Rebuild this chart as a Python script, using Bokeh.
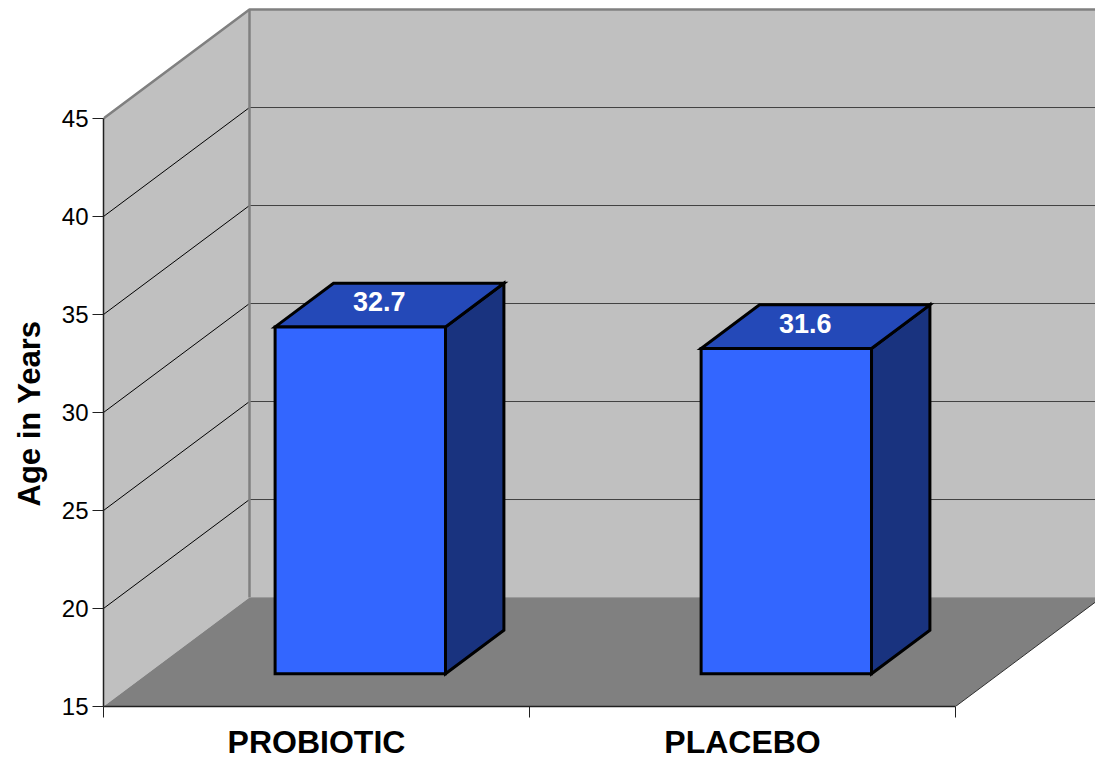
from bokeh.core.properties import value
from bokeh.embed import file_html
from bokeh.models import FixedTicker, Range1d, Title
from bokeh.plotting import figure
from bokeh.resources import INLINE

categories = ["PROBIOTIC", "PLACEBO"]
ages = [32.7, 31.6]
age_ticks = [15, 20, 25, 30, 35, 40, 45]
category_edges = [0, 1, 2]

Y_MIN, Y_MAX = age_ticks[0], age_ticks[-1]
X_MAX = len(categories)

# Oblique projection: a full step of depth shifts a point right and up.
DEPTH_X = 0.3427
DEPTH_Y = 5.56
BAR_WIDTH = 0.40
BAR_FRONT, BAR_BACK = 0.30, 0.70

WALL = "#C0C0C0"
EDGE = "#808080"
FLOOR = "#808080"
BAR_FRONT_COLOR = "#3366FF"
BAR_TOP_COLOR = "#2449B8"
BAR_SIDE_COLOR = "#19337F"
FONT = "Liberation Sans"


def project(x, y, depth=0.0):
    return x + depth * DEPTH_X, y + depth * DEPTH_Y


def polygon(*corners):
    points = [project(*c) for c in corners]
    return [pt[0] for pt in points], [pt[1] for pt in points]


p = figure(
    width=1095,
    height=762,
    output_backend="svg",
    toolbar_location=None,
    x_range=Range1d(0, 2.3286),
    y_range=Range1d(15, 51.02),
    min_border_left=103,
    min_border_right=0,
    min_border_top=0,
    min_border_bottom=56,
    outline_line_color=None,
    background_fill_color="white",
    border_fill_color="white",
)
p.grid.visible = False

# Walls and floor
far_right = 3.0
wall_xs, wall_ys = polygon((0, Y_MIN), (0, Y_MAX), (0, Y_MAX, 1), (0, Y_MIN, 1))
p.patch(wall_xs, wall_ys, fill_color=WALL, line_color=None)
back_xs, back_ys = polygon((0, Y_MIN, 1), (0, Y_MAX, 1), (far_right, Y_MAX, 1), (far_right, Y_MIN, 1))
p.patch(back_xs, back_ys, fill_color=WALL, line_color=None)

# Gridlines on the side wall and the back wall
inner_ticks = age_ticks[1:-1]
side_lines = [polygon((0, t), (0, t, 1)) for t in inner_ticks]
p.multi_line([s[0] for s in side_lines], [s[1] for s in side_lines], line_color="black", line_width=1)
back_lines = [polygon((0, t, 1), (far_right, t, 1)) for t in inner_ticks]
p.multi_line([s[0] for s in back_lines], [s[1] for s in back_lines], line_color="#404040", line_width=1)

floor_xs, floor_ys = polygon((0, Y_MIN), (X_MAX, Y_MIN), (X_MAX, Y_MIN, 1), (0, Y_MIN, 1))
p.patch(floor_xs, floor_ys, fill_color=FLOOR, line_color=None)

# Outline of the box
frame_lines = [
    polygon((0, Y_MAX), (0, Y_MAX, 1), (far_right, Y_MAX, 1)),
    polygon((0, Y_MIN, 1), (0, Y_MAX, 1)),
]
p.multi_line([s[0] for s in frame_lines], [s[1] for s in frame_lines], line_color=EDGE, line_width=2.5)
floor_edge_x, floor_edge_y = polygon((X_MAX, Y_MIN), (X_MAX, Y_MIN, 1))
p.line(floor_edge_x, floor_edge_y, line_color="#303030", line_width=1)
floor_back_x, floor_back_y = polygon((0, Y_MIN, 1), (X_MAX, Y_MIN, 1))
p.line(floor_back_x, floor_back_y, line_color="#9A9A9A", line_width=1)

# Bars: front, top and side faces
for i, age in enumerate(ages):
    left = i + 0.5 - BAR_WIDTH / 2
    right = left + BAR_WIDTH
    front = polygon((left, Y_MIN, BAR_FRONT), (right, Y_MIN, BAR_FRONT), (right, age, BAR_FRONT), (left, age, BAR_FRONT))
    top = polygon((left, age, BAR_FRONT), (right, age, BAR_FRONT), (right, age, BAR_BACK), (left, age, BAR_BACK))
    side = polygon((right, Y_MIN, BAR_FRONT), (right, Y_MIN, BAR_BACK), (right, age, BAR_BACK), (right, age, BAR_FRONT))
    for (xs, ys), color in ((side, BAR_SIDE_COLOR), (top, BAR_TOP_COLOR), (front, BAR_FRONT_COLOR)):
        p.patch(xs, ys, fill_color=color, line_color="black", line_width=3, line_join="miter")

# Value labels lying on the top faces
label_points = [project(i + 0.5, age, 0.43) for i, age in enumerate(ages)]
p.text(
    x=[pt[0] for pt in label_points],
    y=[pt[1] for pt in label_points],
    text=[f"{age:.1f}" for age in ages],
    text_color="white",
    text_font=value(FONT),
    text_font_style="bold",
    text_font_size="27px",
    text_align="center",
    text_baseline="middle",
    y_offset=-11,
)

# Age axis along the front edge of the side wall
yaxis = p.yaxis[0]
yaxis.ticker = FixedTicker(ticks=age_ticks, minor_ticks=[])
yaxis.bounds = (Y_MIN, Y_MAX)
yaxis.axis_line_color = "#202020"
yaxis.axis_line_width = 1.5
yaxis.major_tick_in = 0
yaxis.major_tick_out = 11
yaxis.major_tick_line_color = "#202020"
yaxis.minor_tick_line_color = None
yaxis.major_label_standoff = 4
yaxis.major_label_text_font = FONT
yaxis.major_label_text_font_size = "24px"
yaxis.major_label_text_color = "black"

# Axis title centred on the span of the age axis rather than on the frame
p.add_layout(
    Title(
        text="Age in Years",
        align="left",
        vertical_align="top",
        offset=200,
        standoff=19,
        text_baseline="alphabetic",
        text_font=FONT,
        text_font_style="bold",
        text_font_size="31px",
        text_color="black",
    ),
    "left",
)

# Category axis: labels sit between the edge ticks
xaxis = p.xaxis[0]
centres = [i + 0.5 for i in range(len(categories))]
xaxis.ticker = FixedTicker(ticks=centres, minor_ticks=category_edges)
xaxis.major_label_overrides = {c: name for c, name in zip(centres, categories)}
xaxis.bounds = (0, X_MAX)
xaxis.axis_line_color = "#202020"
xaxis.axis_line_width = 1.5
xaxis.major_tick_line_color = None
xaxis.major_tick_in = 0
xaxis.major_tick_out = 0
xaxis.minor_tick_in = 0
xaxis.minor_tick_out = 11
xaxis.minor_tick_line_color = "#202020"
xaxis.major_label_standoff = 6
xaxis.major_label_text_font = FONT
xaxis.major_label_text_font_style = "bold"
xaxis.major_label_text_font_size = "32px"
xaxis.major_label_text_color = "black"

open("out.html", "w").write(file_html(p, INLINE))
